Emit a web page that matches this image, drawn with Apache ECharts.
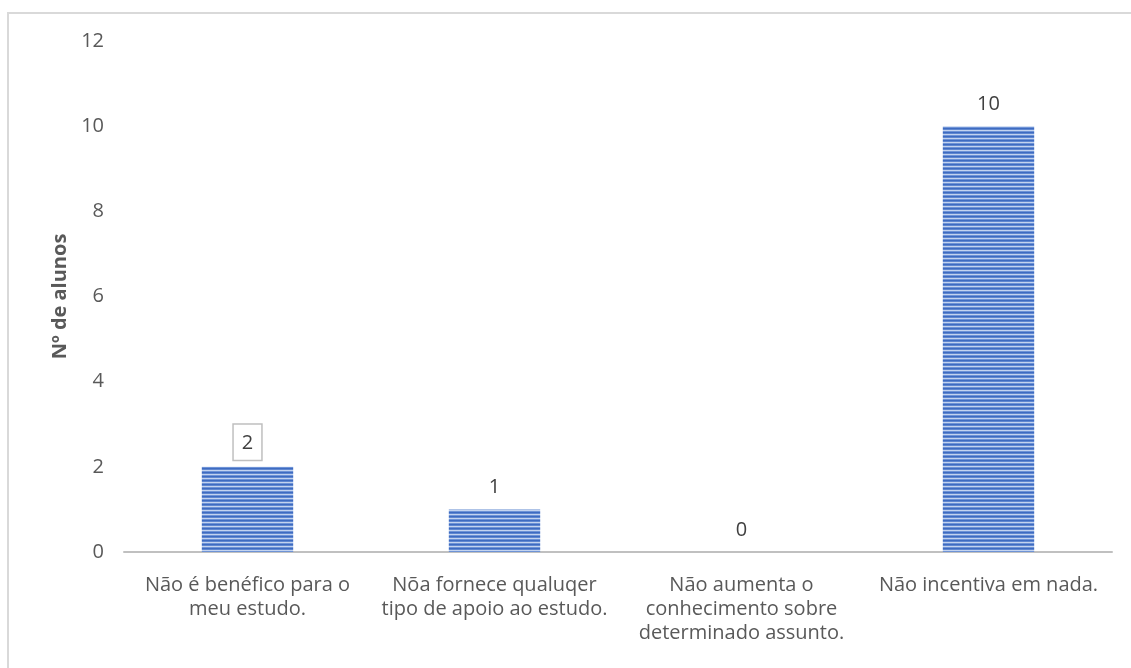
<!DOCTYPE html>
<html>
<head>
<meta charset="utf-8">
<script src="https://cdn.jsdelivr.net/npm/echarts@6/dist/echarts.min.js"></script>
<style>
  html, body { margin: 0; padding: 0; background: #fff; overflow: hidden; }
  #frame { position: absolute; left: 7px; top: 12px; width: 1200px; height: 700px;
           border-left: 2px solid #D9D9D9; border-top: 2px solid #D9D9D9; }
  #chart { position: absolute; left: 0; top: 0; width: 1131px; height: 668px; }
</style>
</head>
<body>
<div id="frame"></div>
<div id="chart"></div>
<script>
// Reasons given by students
const categories = [
  'Não é benéfico para o\nmeu estudo.',
  'Nõa fornece qualuqer\ntipo de apoio ao estudo.',
  'Não aumenta o\nconhecimento sobre\ndeterminado assunto.',
  'Não incentiva em nada.'
];
const counts = [2, 1, 0, 10];
const yTicks = [0, 2, 4, 6, 8, 10, 12];
const yAxisTitle = 'Nº de alunos';

// Horizontal stripe fill for the bars
function stripePattern() {
  const c = document.createElement('canvas');
  c.width = 4; c.height = 4;
  const ctx = c.getContext('2d');
  const rows = ['#3E6BC1', '#5F87D0', '#C3D3EF', '#6E93D6'];
  rows.forEach((col, i) => { ctx.fillStyle = col; ctx.fillRect(0, i, 4, 1); });
  return c;
}

const font = '"Open Sans", "Noto Sans", sans-serif';
const fs = 20;
const chart = echarts.init(document.getElementById('chart'), null, { renderer: 'canvas' });

const seriesData = counts.map((v, i) => {
  const item = { value: v };
  if (i === 0) {
    item.label = {
      borderColor: '#BFBFBF', borderWidth: 1.5, padding: [8, 8, 7, 8],
      backgroundColor: '#fff', distance: 7
    };
  }
  return item;
});

chart.setOption({
  animation: false,
  grid: { left: 124, right: 19, top: 41, bottom: 116, containLabel: false },
  xAxis: {
    type: 'category',
    data: categories,
    axisLine: { show: true, lineStyle: { color: '#C0C0C0', width: 2 } },
    axisTick: { show: false },
    axisLabel: {
      color: '#595959', fontFamily: font, fontSize: fs, lineHeight: 24,
      margin: 21, interval: 0
    }
  },
  yAxis: {
    type: 'value',
    min: yTicks[0], max: yTicks[yTicks.length - 1], interval: 2,
    name: yAxisTitle, nameLocation: 'middle', nameGap: 54, nameRotate: 90,
    nameTextStyle: { color: '#595959', fontFamily: font, fontSize: 20, fontWeight: 'bold' },
    axisLine: { show: false },
    axisTick: { show: false },
    splitLine: { show: false },
    axisLabel: { color: '#595959', fontFamily: font, fontSize: fs, margin: 20 }
  },
  series: [{
    type: 'bar',
    data: seriesData,
    barWidth: '37%',
    itemStyle: { color: { image: stripePattern(), repeat: 'repeat' } },
    label: {
      show: true, position: 'top', distance: 12,
      color: '#404040', fontFamily: font, fontSize: fs
    }
  }]
});
</script>
</body>
</html>
